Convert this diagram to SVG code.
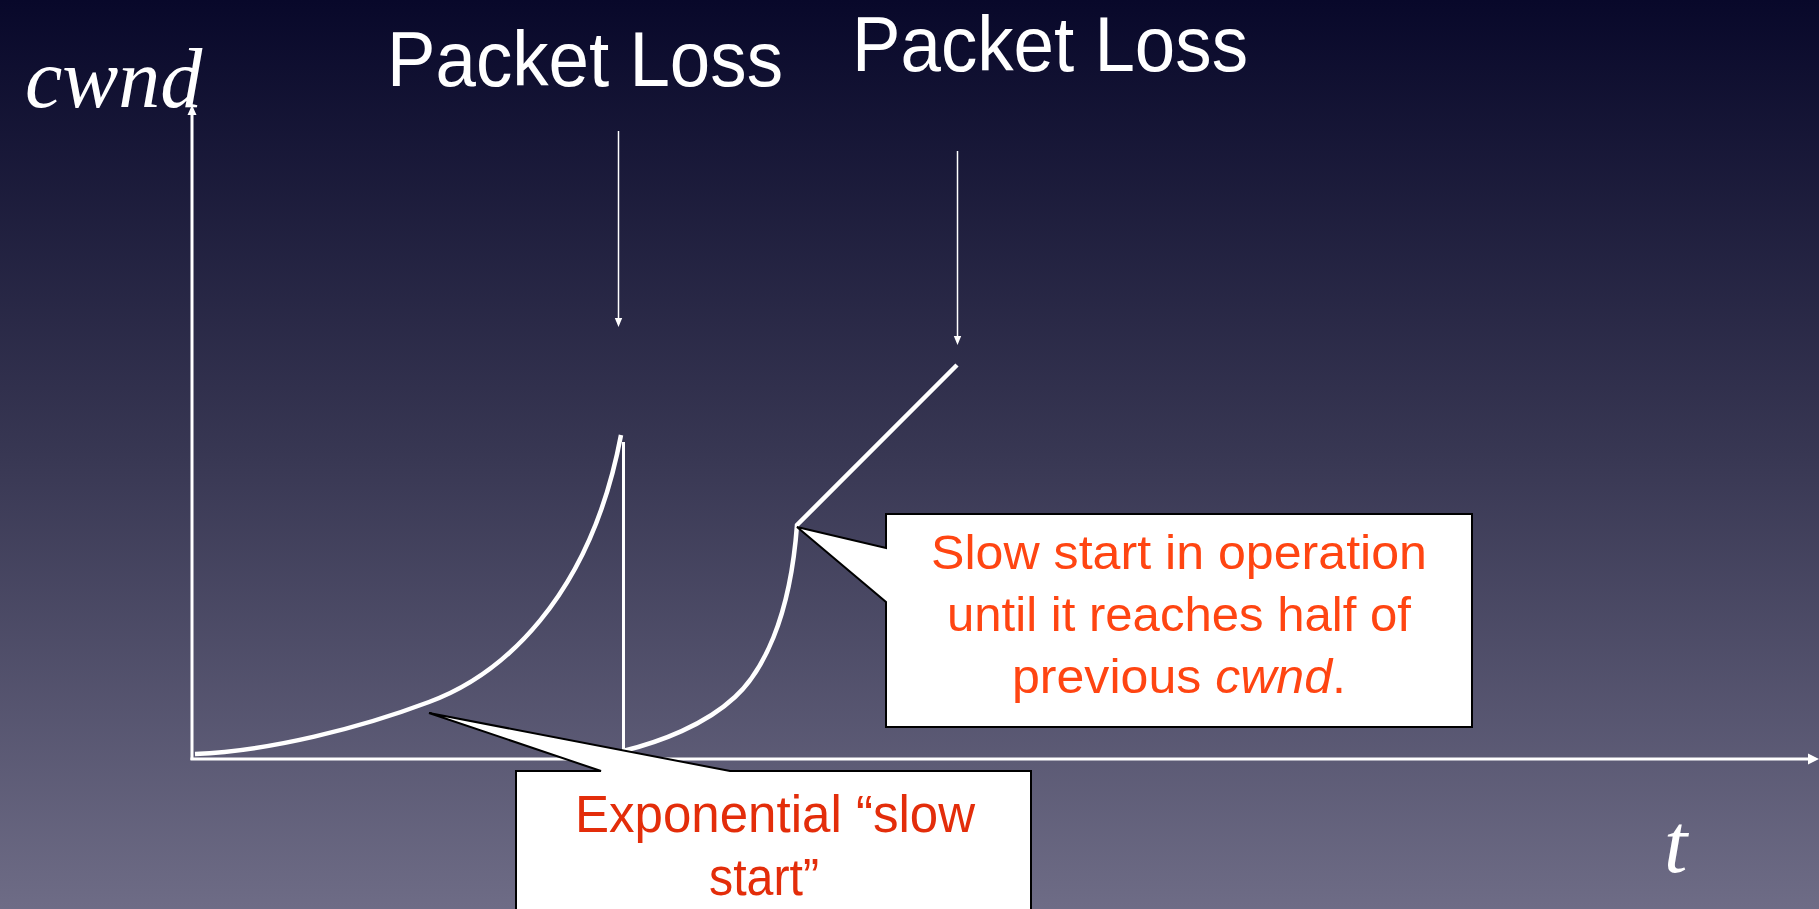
<svg xmlns="http://www.w3.org/2000/svg" width="1819" height="909" viewBox="0 0 1819 909">
  <defs>
    <linearGradient id="bg" x1="0" y1="0" x2="0" y2="1">
      <stop offset="0" stop-color="#08082a"/>
      <stop offset="0.5" stop-color="#383753"/>
      <stop offset="1" stop-color="#6e6c86"/>
    </linearGradient>
    <style>
      .axis { stroke: #ffffff; stroke-width: 3; fill: none; }
      .curve { stroke: #ffffff; stroke-width: 4.5; fill: none; stroke-linecap: butt; stroke-linejoin: miter; }
      .thin { stroke: #ffffff; stroke-width: 1.5; fill: none; }
      .head { fill: #ffffff; }
      .axislabel { font-family: "Liberation Serif", "Times New Roman", serif; font-style: italic; font-size: 84px; fill: #ffffff; }
      .title { font-family: "Liberation Sans", Arial, sans-serif; font-size: 78px; fill: #ffffff; }
      .callout { fill: #ffffff; stroke: #000000; stroke-width: 2; stroke-linejoin: miter; }
      .ctext1 { font-family: "Liberation Sans", Arial, sans-serif; font-size: 48px; fill: #ff4512; text-anchor: middle; }
      .ctext2 { font-family: "Liberation Sans", Arial, sans-serif; font-size: 51px; fill: #e32d0a; text-anchor: middle; }
    </style>
  </defs>

  <rect x="0" y="0" width="1819" height="909" fill="url(#bg)"/>

  <g id="axes">
    <line class="axis" x1="192" y1="760" x2="192" y2="112"/>
    <path class="head" d="M192,105 L196.5,115 L187.5,115 Z"/>
    <line class="axis" x1="190.5" y1="759" x2="1810" y2="759"/>
    <path class="head" d="M1819,759 L1808,753.5 L1808,764.5 Z"/>
  </g>

  <g id="labels">
    <text id="label-cwnd" class="axislabel" x="25" y="107">cwnd</text>
    <text id="label-t" class="axislabel" x="1664" y="872">t</text>
    <text id="label-loss1" class="title" x="387" y="86" textLength="396" lengthAdjust="spacingAndGlyphs">Packet Loss</text>
    <text id="label-loss2" class="title" x="852" y="71" textLength="396" lengthAdjust="spacingAndGlyphs">Packet Loss</text>
  </g>

  <g id="connectors">
    <line class="thin" x1="618.5" y1="131" x2="618.5" y2="319"/>
    <path class="head" d="M618.5,327 L614.8,318 L622.2,318 Z"/>
    <line class="thin" x1="957.5" y1="151" x2="957.5" y2="337"/>
    <path class="head" d="M957.5,345 L953.8,336 L961.2,336 Z"/>
  </g>

  <g id="curves">
    <path class="curve" d="M195,754 C270,751 360,728 429,702 C500,676 590,600 621,435"/>
    <line class="axis" x1="623.5" y1="442" x2="623.5" y2="752"/>
    <path class="curve" d="M623,751 C660,742 705,725 735,697 C762,672 790,620 797,525 L957,365"/>
  </g>

  <g id="callout-slowstart">
    <path class="callout" d="M886,514 H1472 V727 H886 V602 L797,527 L886,548 Z"/>
    <text class="ctext1" x="1179" y="569" textLength="496" lengthAdjust="spacingAndGlyphs">Slow start in operation</text>
    <text class="ctext1" x="1179" y="631" textLength="464" lengthAdjust="spacingAndGlyphs">until it reaches half of</text>
    <text class="ctext1" x="1179" y="693" textLength="334" lengthAdjust="spacingAndGlyphs">previous <tspan font-style="italic">cwnd</tspan>.</text>
  </g>

  <g id="callout-exponential">
    <path class="callout" d="M516,771 H601 L429,713 L730,771 H1031 V915 H516 Z"/>
    <text class="ctext2" x="775" y="832" textLength="400" lengthAdjust="spacingAndGlyphs">Exponential “slow</text>
    <text class="ctext2" x="764" y="895" textLength="110" lengthAdjust="spacingAndGlyphs">start”</text>
  </g>
</svg>
